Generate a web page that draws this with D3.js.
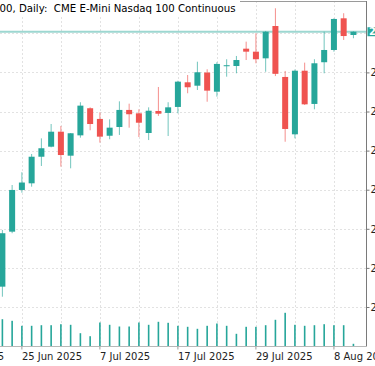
<!DOCTYPE html>
<html>
<head>
<meta charset="utf-8">
<script src="https://cdn.jsdelivr.net/npm/d3@7/dist/d3.min.js"></script>
<style>
  body { margin: 0; background: #fff; }
  svg { display: block; font-family: "DejaVu Sans", sans-serif; }
</style>
</head>
<body>
<svg id="chart" width="375" height="366"></svg>
<script>
// trading days on the time axis (the first ones fall left of the visible window)
let days = [
  "2025-06-13", "2025-06-16", "2025-06-17", "2025-06-18", "2025-06-19", "2025-06-20",
  "2025-06-23", "2025-06-24", "2025-06-25", "2025-06-26", "2025-06-27", "2025-06-30",
  "2025-07-01", "2025-07-02", "2025-07-03", "2025-07-04", "2025-07-07", "2025-07-08",
  "2025-07-09", "2025-07-10", "2025-07-11", "2025-07-14", "2025-07-15", "2025-07-16",
  "2025-07-17", "2025-07-18", "2025-07-21", "2025-07-22", "2025-07-23", "2025-07-24",
  "2025-07-25", "2025-07-28", "2025-07-29", "2025-07-30", "2025-07-31", "2025-08-01",
  "2025-08-04", "2025-08-05", "2025-08-06", "2025-08-07", "2025-08-08", "2025-08-11",
  "2025-08-12"
];

// daily candles, 23 Jun -> 12 Aug
let open = [
  21756, 22178, 22498, 22549, 22753, 22830, 22945, 22761, 22917, 23125,
  23043, 22914, 22981, 23112, 23086, 22935, 23104, 23089, 23135, 23324,
  23298, 23399, 23252, 23451, 23449, 23582, 23559, 23508, 23756, 23365,
  22925, 23413, 23158, 23478, 23572, 23815, 23687
];
let high = [
  22191, 22536, 22634, 22774, 22894, 23004, 22989, 22935, 23171, 23132,
  23094, 23040, 23178, 23160, 23117, 23132, 23288, 23171, 23336, 23380,
  23482, 23424, 23478, 23501, 23526, 23636, 23700, 23718, 23892, 23411,
  23422, 23475, 23501, 23712, 23815, 23854, 23715
];
let low = [
  21679, 22166, 22477, 22523, 22682, 22825, 22677, 22664, 22899, 22956,
  22861, 22887, 22920, 22976, 22904, 22881, 23066, 22912, 23086, 23240,
  23265, 23175, 23214, 23367, 23393, 23495, 23470, 23405, 23372, 22868,
  22894, 23150, 23117, 23393, 23559, 23649, 23662
];
let close = [
  22166, 22498, 22555, 22753, 22818, 22945, 22766, 22933, 23145, 23004,
  22907, 22976, 23112, 23079, 23014, 23106, 23083, 23132, 23329, 23286,
  23401, 23260, 23465, 23455, 23495, 23559, 23501, 23712, 23389, 22966,
  23413, 23155, 23470, 23572, 23810, 23679, 23712
];
// volume in thousands of contracts
let volume = [
  546, 514, 414, 414, 426, 426, 446, 434, 266, 206,
  480, 434, 400, 400, 480, 434, 494, 474, 414, 394,
  354, 414, 460, 414, 254, 394, 394, 426, 534, 674,
  434, 414, 426, 446, 426, 426, 54
];

let priceTicks = [21600, 21900, 22200, 22500, 22800, 23100, 23400, 23700];
// the top tick sits under the last-price tag, so it gets no label
let priceLabels = [21600, 21900, 22200, 22500, 22800, 23100, 23400];
let labelDays = ["2025-06-13", "2025-06-25", "2025-07-07", "2025-07-17", "2025-07-29", "2025-08-08"];
let gridDays = [
  "2025-06-13", "2025-06-19", "2025-06-25", "2025-07-01", "2025-07-07", "2025-07-11",
  "2025-07-17", "2025-07-23", "2025-07-29", "2025-08-04", "2025-08-08"
];

let up = "#26a69a",
  down = "#ef5350",
  gridColor = "#e2e2e2";

let plotRight = 366.5,
  plotTop = 1,
  plotBottom = 346.5;

let candleDays = days.slice(days.length - open.length);
let candles = candleDays.map((d, i) => ({
  day: d,
  o: open[i],
  h: high[i],
  l: low[i],
  c: close[i],
  v: volume[i]
}));

let svg = d3.select("#chart");

let xScale = d3.scaleBand().domain(days).range([-61, 358.3]).padding(0);
let yScale = d3.scaleLinear().domain([21600, 23700]).range([307, 33.3]);
let vScale = d3.scaleLinear().domain([0, 1000]).range([plotBottom, plotBottom - 50]);
let cx = (d) => xScale(d) + xScale.bandwidth() / 2;

svg.append("defs")
  .append("clipPath")
  .attr("id", "plot-clip")
  .append("rect")
  .attr("x", 0)
  .attr("y", plotTop)
  .attr("width", plotRight)
  .attr("height", plotBottom - plotTop);

// dotted grid
svg.append("g")
  .selectAll("line")
  .data(gridDays)
  .enter()
  .append("line")
  .attr("x1", (d) => Math.round(cx(d)) + 0.5)
  .attr("x2", (d) => Math.round(cx(d)) + 0.5)
  .attr("y1", plotTop)
  .attr("y2", plotBottom)
  .attr("stroke", gridColor)
  .attr("stroke-dasharray", "2,2");

svg.append("g")
  .selectAll("line")
  .data(priceTicks)
  .enter()
  .append("line")
  .attr("x1", 0)
  .attr("x2", plotRight)
  .attr("y1", (d) => Math.round(yScale(d)) + 0.5)
  .attr("y2", (d) => Math.round(yScale(d)) + 0.5)
  .attr("stroke", gridColor)
  .attr("stroke-dasharray", "2,2");

let plot = svg.append("g").attr("clip-path", "url(#plot-clip)");

// volume bars along the bottom
plot.append("g")
  .selectAll("rect")
  .data(candles)
  .enter()
  .append("rect")
  .attr("x", (d) => cx(d.day) - 0.8)
  .attr("width", 1.6)
  .attr("y", (d) => vScale(d.v))
  .attr("height", (d) => plotBottom - vScale(d.v))
  .attr("fill", up);

// last price line
let last = candles[candles.length - 1];
plot.append("line")
  .attr("x1", 0)
  .attr("x2", plotRight)
  .attr("y1", yScale(last.c))
  .attr("y2", yScale(last.c))
  .attr("stroke", up)
  .attr("stroke-opacity", 0.45)
  .attr("stroke-width", 2);

// candles
let candle = plot.append("g")
  .selectAll("g")
  .data(candles)
  .enter()
  .append("g");

candle.append("line")
  .attr("x1", (d) => cx(d.day))
  .attr("x2", (d) => cx(d.day))
  .attr("y1", (d) => yScale(d.h))
  .attr("y2", (d) => yScale(d.l))
  .attr("stroke", (d) => (d.c >= d.o ? up : down))
  .attr("stroke-opacity", 0.65)
  .attr("stroke-width", 1);

candle.append("rect")
  .attr("x", (d) => cx(d.day) - 3)
  .attr("width", 6)
  .attr("y", (d) => yScale(Math.max(d.o, d.c)))
  .attr("height", (d) => Math.max(1, Math.abs(yScale(d.o) - yScale(d.c))))
  .attr("fill", (d) => (d.c >= d.o ? up : down));

// frame
svg.append("line")
  .attr("x1", 0)
  .attr("x2", plotRight)
  .attr("y1", plotTop + 0.5)
  .attr("y2", plotTop + 0.5)
  .attr("stroke", "#9a9a9a");

svg.append("line")
  .attr("x1", plotRight)
  .attr("x2", plotRight)
  .attr("y1", plotTop)
  .attr("y2", plotBottom)
  .attr("stroke", "#7a7a7a");

svg.append("line")
  .attr("x1", 0)
  .attr("x2", plotRight)
  .attr("y1", plotBottom)
  .attr("y2", plotBottom)
  .attr("stroke", "#b8b8b8");

// price axis on the right (only the first digit fits in the window)
let yAxis = d3.axisRight(yScale).tickValues(priceLabels).tickSize(3).tickPadding(1).tickFormat(d3.format("d"));
let yG = svg.append("g")
  .attr("transform", `translate(${plotRight},0)`)
  .call(yAxis);
yG.select(".domain").remove();
yG.selectAll("line").attr("stroke", "#7a7a7a");
yG.selectAll("text")
  .style("font-family", "DejaVu Sans")
  .style("font-size", "10px")
  .attr("fill", "#222");

// last price tag
svg.append("rect")
  .attr("x", plotRight + 1)
  .attr("y", yScale(last.c) - 4.5)
  .attr("width", 10)
  .attr("height", 9)
  .attr("fill", up);
svg.append("text")
  .attr("x", plotRight + 2.5)
  .attr("y", yScale(last.c) + 3.6)
  .text(last.c)
  .style("font-size", "10px")
  .style("font-weight", "bold")
  .attr("fill", "#fff");

// time axis
let fmt = d3.timeFormat("%-d %b %Y"),
  parse = d3.timeParse("%Y-%m-%d");
let xAxis = d3.axisBottom(xScale).tickValues(labelDays).tickSize(3).tickFormat((d) => fmt(parse(d)));
let xG = svg.append("g")
  .attr("transform", `translate(0,${plotBottom})`)
  .call(xAxis);
xG.select(".domain").remove();
xG.selectAll("line").attr("stroke", "#9a9a9a");
xG.selectAll("text")
  .attr("text-anchor", "start")
  .attr("x", 0)
  .style("font-family", "DejaVu Sans")
  .style("font-size", "10px")
  .attr("fill", "#222");

// title, cut by the left edge like the original
svg.append("rect")
  .attr("x", 0)
  .attr("y", 0)
  .attr("width", 240)
  .attr("height", 15)
  .attr("fill", "#fff");
let prefix = "E-mini Nasdaq 1";
let title = svg.append("text")
  .attr("y", 11.5)
  .style("font-size", "10.2px")
  .style("white-space", "pre")
  .attr("fill", "#000")
  .text(prefix + "00, Daily:  CME E-Mini Nasdaq 100 Continuous");
title.attr("x", -title.node().getSubStringLength(0, prefix.length) - 0.5);
</script>
</body>
</html>
